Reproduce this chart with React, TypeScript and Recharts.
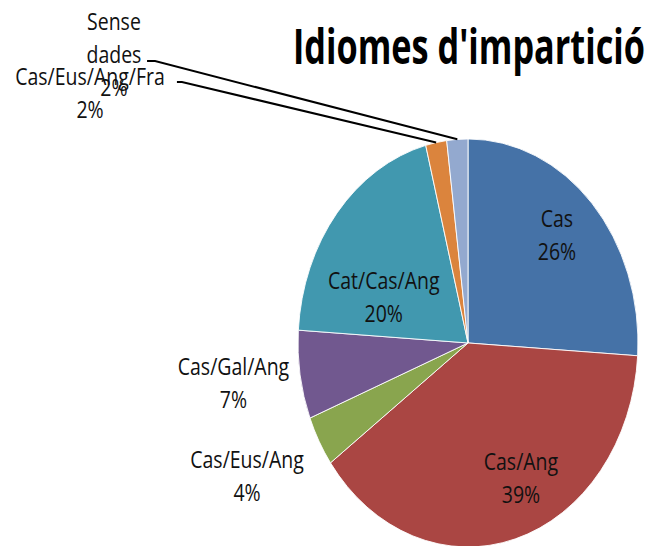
import React from 'react';
import { PieChart, Pie, Cell } from 'recharts';

const categories = ['Cas', 'Cas/Ang', 'Cas/Eus/Ang', 'Cas/Gal/Ang', 'Cat/Cas/Ang', 'Cas/Eus/Ang/Fra', 'Sense dades'];
const values = [26, 39, 4, 7, 20, 2, 2];
const colors = ['#4572A7', '#AA4643', '#89A54E', '#71588F', '#4198AF', '#DB843D', '#93A9CF'];
const labelLineBreaks: string[][] = [['Cas'], ['Cas/Ang'], ['Cas/Eus/Ang'], ['Cas/Gal/Ang'], ['Cat/Cas/Ang'], ['Cas/Eus/Ang/Fra'], ['Sense', 'dades']];
const title = "Idiomes d'impartició";

// label placement (polar, relative to each slice's mid angle)
const labelCfg: { r: number; dA: number; er?: number; edA?: number; stub?: number }[] = [
  { r: 0.746, dA: 2.25 },
  { r: 0.729, dA: 9.1 },
  { r: 1.453, dA: -2.25 },
  { r: 1.393, dA: -1 },
  { r: 0.545, dA: 15 },
  { r: 2.541, dA: 50.25, er: 2.114, edA: 41.95, stub: 5 },
  { r: 2.518, dA: 52.2, er: 2.302, edA: 49.5, stub: 8 },
];

const data = categories.map((name, i) => ({ name, value: values[i] }));

const LINE_H = 27.5;
const FONT = "'Open Sans', sans-serif";

const renderLabel = (p: any) => {
  const { cx, cy, midAngle, outerRadius, percent, index } = p;
  const cfg = labelCfg[index];
  const toXY = (r: number, ang: number) => {
    const rad = (ang * Math.PI) / 180;
    return { x: cx + r * outerRadius * Math.cos(rad), y: cy - r * outerRadius * Math.sin(rad) };
  };
  const c = toXY(cfg.r, midAngle + cfg.dA);
  const lines = [...labelLineBreaks[index], `${Math.round(percent * 100)}%`];
  const start = c.y - ((lines.length - 1) * LINE_H) / 2;
  let leader = null;
  if (cfg.er !== undefined) {
    const edge = toXY(1, midAngle);
    const elbow = toXY(cfg.er, midAngle + (cfg.edA || 0));
    leader = (
      <polyline
        points={`${edge.x},${edge.y} ${elbow.x},${elbow.y} ${elbow.x - (cfg.stub || 0)},${elbow.y}`}
        fill="none"
        stroke="#000"
        strokeWidth={1.7}
      />
    );
  }
  return (
    <g key={`lbl-${index}`}>
      {leader}
      <text x={c.x} y={start} textAnchor="middle" fontFamily={FONT} fontSize={19.5} fill="#111">
        {lines.map((l, i) => (
          <tspan key={i} x={c.x} y={start + i * LINE_H} dominantBaseline="central">
            {l}
          </tspan>
        ))}
      </text>
    </g>
  );
};

export default function App() {
  return (
    <div style={{ position: 'absolute', left: 0, top: 0, width: 652, height: 546, overflow: 'hidden', background: '#fff' }}>
      <div style={{ position: 'relative', width: 652, height: 455, transform: 'scaleY(1.2)', transformOrigin: '0 0' }}>
        <PieChart width={652} height={455} margin={{ top: 0, right: 0, bottom: 0, left: 0 }}>
          <Pie
            data={data}
            dataKey="value"
            nameKey="name"
            cx={468}
            cy={285.8}
            outerRadius={170}
            startAngle={90}
            endAngle={-270}
            stroke="#ffffff"
            strokeWidth={0.8}
            label={renderLabel}
            labelLine={false}
            isAnimationActive={false}
          >
            {data.map((d, i) => (
              <Cell key={d.name} fill={colors[i]} />
            ))}
          </Pie>
        </PieChart>
        <svg width={652} height={455} style={{ position: 'absolute', left: 0, top: 0, pointerEvents: 'none' }}>
          <text x={293} y={53} fontFamily={FONT} fontWeight="bold" fontSize={40} fill="#000" textLength={352} lengthAdjust="spacingAndGlyphs">
            {title}
          </text>
        </svg>
      </div>
    </div>
  );
}
